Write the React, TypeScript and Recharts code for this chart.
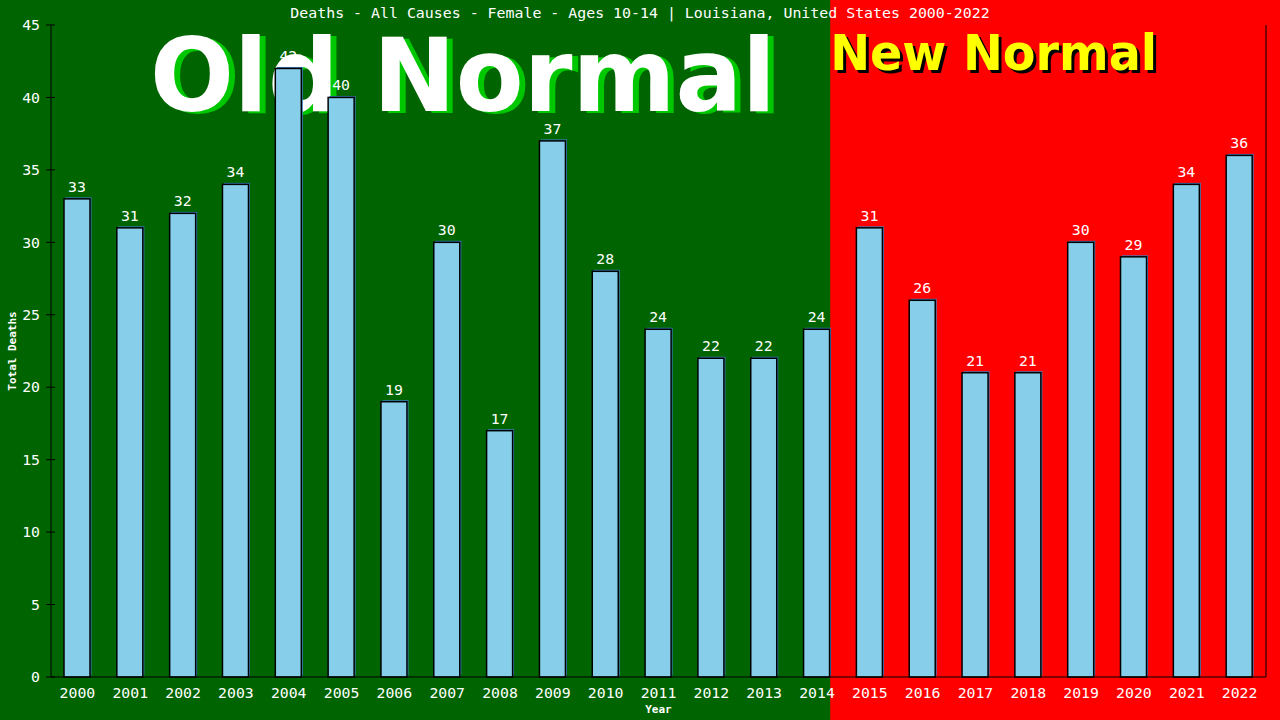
import React from "react";
import {
  Bar,
  BarChart,
  LabelList,
  ReferenceArea,
  XAxis,
  YAxis,
} from "recharts";

const years = [
  "2000", "2001", "2002", "2003", "2004", "2005", "2006", "2007", "2008", "2009",
  "2010", "2011", "2012", "2013", "2014", "2015", "2016", "2017", "2018", "2019",
  "2020", "2021", "2022",
];
const deaths = [
  33, 31, 32, 34, 42, 40, 19, 30, 17, 37, 28, 24, 22, 22, 24, 31, 26, 21, 21, 30,
  29, 34, 36,
];
const yTicks = [0, 5, 10, 15, 20, 25, 30, 35, 40, 45];
const oldYears = years.filter((y) => Number(y) < 2015);
const newYears = years.filter((y) => Number(y) >= 2015);

const W = 1280;
const H = 720;
const mono = "'DejaVu Sans Mono', monospace";
const bold = "'DejaVu Sans', Verdana, sans-serif";

const data = years.map((year, i) => ({ year, total: deaths[i] }));

function BarShape(props: any) {
  const { x, y, width, height } = props;
  if (!height) return null;
  return (
    <g>
      <rect x={x + 1.5} y={y - 1.5} width={width} height={height} fill="#3a7fc0" />
      <rect
        x={x}
        y={y}
        width={width}
        height={height}
        fill="#87CEEB"
        stroke="#000"
        strokeWidth={1.5}
      />
    </g>
  );
}

function OldShape(props: any) {
  const { x, width } = props;
  const slot = width / oldYears.length;
  const edge = x + width - slot / 4;
  return (
    <g>
      <rect x={0} y={0} width={edge} height={H} fill="#006400" />
      <g fontFamily={bold} fontWeight="bold" fontSize={102}>
        <text x={156} y={113} fill="#00c800" textLength={626} lengthAdjust="spacingAndGlyphs">
          Old Normal
        </text>
        <text x={150} y={111} fill="#fff" textLength={626} lengthAdjust="spacingAndGlyphs">
          Old Normal
        </text>
      </g>
    </g>
  );
}

function NewShape(props: any) {
  const { x, width } = props;
  const slot = width / newYears.length;
  const edge = x - slot / 4;
  return (
    <g>
      <rect x={edge} y={0} width={W - edge} height={H} fill="#ff0000" />
      <g fontFamily={bold} fontWeight="bold" fontSize={50}>
        <text x={edge + 3} y={73} fill="#000" textLength={327} lengthAdjust="spacingAndGlyphs">
          New Normal
        </text>
        <text x={edge} y={70} fill="#ffff00" textLength={327} lengthAdjust="spacingAndGlyphs">
          New Normal
        </text>
      </g>
    </g>
  );
}

function YTick(props: any) {
  const { x, y, payload } = props;
  const axisX = x + 11;
  return (
    <g>
      <line x1={axisX} x2={axisX + 4} y1={y} y2={y} stroke="#000" />
      <text
        x={x}
        y={y}
        dy="0.355em"
        textAnchor="end"
        fill="#fff"
        fontFamily={mono}
        fontSize={14.8}
      >
        {payload.value}
      </text>
    </g>
  );
}

function YLabel(props: any) {
  const { viewBox } = props;
  const cx = 16;
  const cy = viewBox.y + viewBox.height / 2;
  return (
    <text
      x={cx}
      y={cy}
      transform={`rotate(-90 ${cx} ${cy})`}
      textAnchor="middle"
      fill="#fff"
      fontFamily={mono}
      fontWeight="bold"
      fontSize={11}
    >
      Total Deaths
    </text>
  );
}

export default function App() {
  return (
    <div
      style={{
        position: "absolute",
        left: 0,
        top: 0,
        width: W,
        height: H,
        background: "#006400",
      }}
    >
      <BarChart
        width={W}
        height={H}
        data={data}
        margin={{ top: 25, right: 0, bottom: 0, left: 0 }}
      >
        <ReferenceArea x1={oldYears[0]} x2={oldYears[oldYears.length - 1]} shape={<OldShape />} ifOverflow="visible" />
        <ReferenceArea x1={newYears[0]} x2={newYears[newYears.length - 1]} shape={<NewShape />} ifOverflow="visible" />
        <XAxis
          dataKey="year"
          height={43}
          stroke="#000"
          tickLine={false}
          tick={{ fill: "#fff", fontFamily: mono, fontSize: 14.8 }}
          tickMargin={4}
          interval={0}
          label={{
            value: "Year",
            position: "insideBottom",
            offset: 7,
            fill: "#fff",
            fontFamily: mono,
            fontWeight: "bold",
            fontSize: 11,
          }}
        />
        <YAxis
          domain={[0, 45]}
          ticks={yTicks}
          width={51}
          stroke="#000"
          tickSize={5}
          tickMargin={6}
          tick={<YTick />}
          label={<YLabel />}
        />
        <YAxis
          yAxisId="right"
          orientation="right"
          domain={[0, 45]}
          width={14}
          stroke="#000"
          tick={false}
          tickLine={false}
        />
        <Bar
          dataKey="total"
          barSize={26}
          shape={<BarShape />}
          isAnimationActive={false}
        >
          <LabelList
            dataKey="total"
            position="top"
            offset={7}
            fill="#fff"
            fontFamily={mono}
            fontSize={14.8}
          />
        </Bar>
      </BarChart>
      <div
        style={{
          position: "absolute",
          left: 0,
          top: 4,
          width: W,
          textAlign: "center",
          color: "#fff",
          fontFamily: mono,
          fontSize: 14.9,
          lineHeight: "18px",
          pointerEvents: "none",
        }}
      >
        Deaths - All Causes - Female - Ages 10-14 | Louisiana, United States 2000-2022
      </div>
    </div>
  );
}
